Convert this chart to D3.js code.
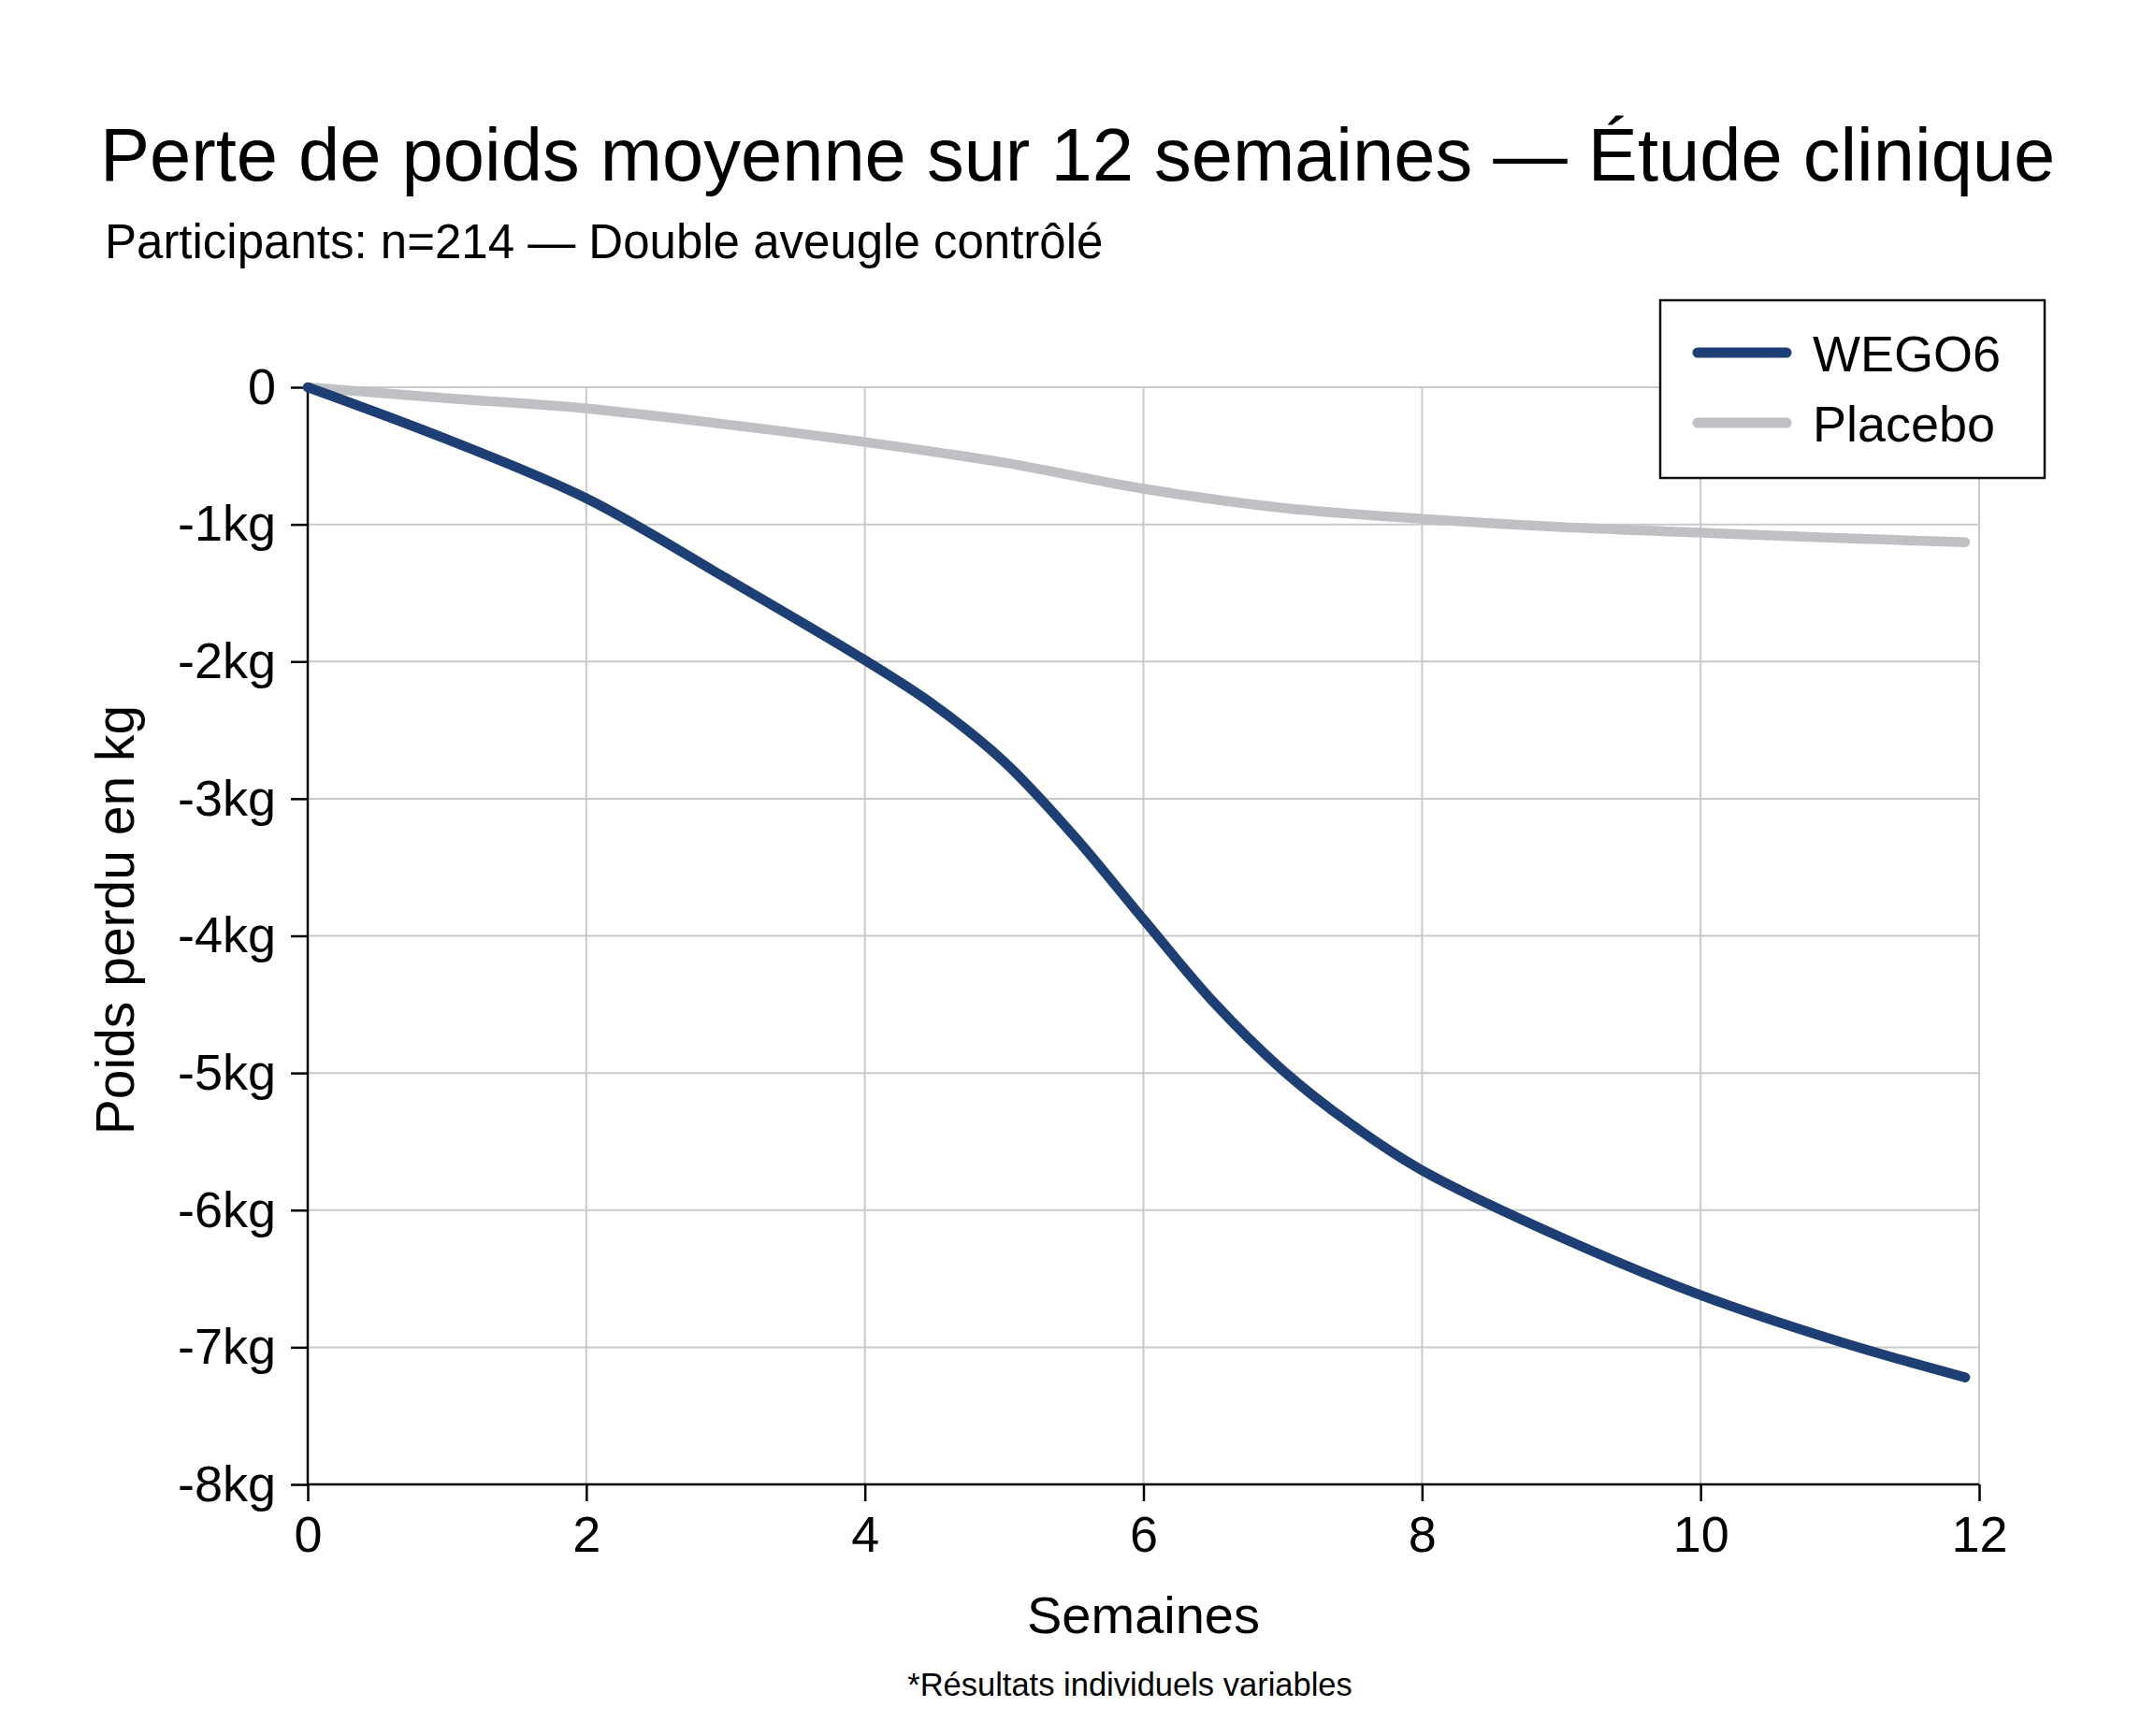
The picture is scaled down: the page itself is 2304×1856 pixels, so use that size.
<!DOCTYPE html>
<html>
<head>
<meta charset="utf-8">
<script src="https://cdn.jsdelivr.net/npm/d3@7"></script>
<style>
  body { margin: 0; background: #fff; }
  svg { font-family: "Liberation Sans", Arial, Helvetica, sans-serif; }
</style>
</head>
<body>
<script>
// weeks and mean weight change (kg)
var wegoWeeks = [0, 1, 2, 3, 4, 4.5, 5, 5.5, 6, 6.5, 7, 7.5, 8, 9, 10, 11, 11.9];
var wegoValues = [0, -0.38, -0.81, -1.39, -1.99, -2.32, -2.73, -3.27, -3.88, -4.48, -4.98, -5.38, -5.71, -6.2, -6.62, -6.96, -7.22];

var placeboWeeks = [0, 1, 2, 3, 4, 5, 6, 7, 8, 9, 10, 11, 11.9];
var placeboValues = [0, -0.08, -0.155, -0.27, -0.40, -0.55, -0.74, -0.88, -0.96, -1.02, -1.06, -1.10, -1.13];

var xTicks = [0, 2, 4, 6, 8, 10, 12];
var yTicks = [0, -1, -2, -3, -4, -5, -6, -7, -8];
var seriesNames = ["WEGO6", "Placebo"];
var seriesColors = ["#1e3f74", "#bec0c4"];

var W = 2304, H = 1856;
var margin = {top: 414, right: 188, bottom: 269, left: 329},
    width = W - margin.left - margin.right,
    height = H - margin.top - margin.bottom;

var svg = d3.select("body").append("svg")
    .attr("width", W)
    .attr("height", H);

svg.append("rect").attr("width", W).attr("height", H).attr("fill", "#fff");

// titles
svg.append("text")
    .attr("x", 107).attr("y", 193)
    .attr("font-size", 79.5)
    .text("Perte de poids moyenne sur 12 semaines — Étude clinique");
svg.append("text")
    .attr("x", 112).attr("y", 276)
    .attr("font-size", 51)
    .text("Participants: n=214 — Double aveugle contrôlé");

var g = svg.append("g")
    .attr("transform", "translate(" + margin.left + "," + margin.top + ")");

var x = d3.scaleLinear().domain([0, 12]).range([0, width]);
var y = d3.scaleLinear().domain([-8, 0]).range([height, 0]);

// grid
g.append("g").selectAll("line")
    .data(yTicks.filter(function(d) { return d > -8; }))
  .enter().append("line")
    .attr("x1", 0).attr("x2", width)
    .attr("y1", function(d) { return y(d); })
    .attr("y2", function(d) { return y(d); })
    .attr("stroke", "#c9c9cb").attr("stroke-width", 2);
g.append("g").selectAll("line")
    .data(xTicks.filter(function(d) { return d > 0; }))
  .enter().append("line")
    .attr("y1", 0).attr("y2", height)
    .attr("x1", function(d) { return x(d); })
    .attr("x2", function(d) { return x(d); })
    .attr("stroke", "#c9c9cb").attr("stroke-width", 2);

// axes
var xAxis = g.append("g")
    .attr("transform", "translate(0," + height + ")")
    .call(d3.axisBottom(x).tickValues(xTicks).tickSize(18).tickPadding(16).tickFormat(d3.format("d")));
var yAxis = g.append("g")
    .call(d3.axisLeft(y).tickValues(yTicks).tickSize(18).tickPadding(16)
      .tickFormat(function(d) { return d === 0 ? "0" : d + "kg"; }));
[xAxis, yAxis].forEach(function(a) {
  a.select(".domain").attr("stroke", "#000").attr("stroke-width", 2.5);
  a.selectAll(".tick line").attr("stroke", "#000").attr("stroke-width", 2.5);
  a.selectAll(".tick text").attr("font-size", 54).attr("fill", "#000")
    .attr("font-family", "Liberation Sans, Arial, sans-serif");
});
// remove the outer ticks on the domain path
xAxis.select(".domain").attr("d", "M0,0H" + width);
yAxis.select(".domain").attr("d", "M0,0V" + height);

// lines
var line = d3.line()
    .x(function(d) { return x(d[0]); })
    .y(function(d) { return y(d[1]); })
    .curve(d3.curveCatmullRom.alpha(0.5));

var placeboData = placeboWeeks.map(function(w, i) { return [w, placeboValues[i]]; });
var wegoData = wegoWeeks.map(function(w, i) { return [w, wegoValues[i]]; });

g.append("path").datum(placeboData)
    .attr("d", line).attr("fill", "none")
    .attr("stroke", seriesColors[1]).attr("stroke-width", 10.5)
    .attr("stroke-linecap", "round").attr("stroke-linejoin", "round");
g.append("path").datum(wegoData)
    .attr("d", line).attr("fill", "none")
    .attr("stroke", seriesColors[0]).attr("stroke-width", 10.5)
    .attr("stroke-linecap", "round").attr("stroke-linejoin", "round");

// axis titles
svg.append("text")
    .attr("x", margin.left + width / 2).attr("y", 1746)
    .attr("text-anchor", "middle").attr("font-size", 56)
    .text("Semaines");
svg.append("text")
    .attr("transform", "translate(143," + (margin.top + height / 2 - 17) + ") rotate(-90)")
    .attr("text-anchor", "middle").attr("font-size", 57)
    .text("Poids perdu en kg");
svg.append("text")
    .attr("x", 1208).attr("y", 1813)
    .attr("text-anchor", "middle").attr("font-size", 34.5)
    .text("*Résultats individuels variables");

// legend
var legend = svg.append("g").attr("transform", "translate(1775,321)");
legend.append("rect")
    .attr("width", 411).attr("height", 190)
    .attr("fill", "#fff").attr("stroke", "#111").attr("stroke-width", 2.5);
seriesNames.forEach(function(name, i) {
  var ly = 56 + i * 75;
  legend.append("line")
    .attr("x1", 40).attr("x2", 135).attr("y1", ly).attr("y2", ly)
    .attr("stroke", seriesColors[i]).attr("stroke-width", 11).attr("stroke-linecap", "round");
  legend.append("text")
    .attr("x", 163).attr("y", ly + 20)
    .attr("font-size", 54)
    .text(name);
});
</script>
</body>
</html>
